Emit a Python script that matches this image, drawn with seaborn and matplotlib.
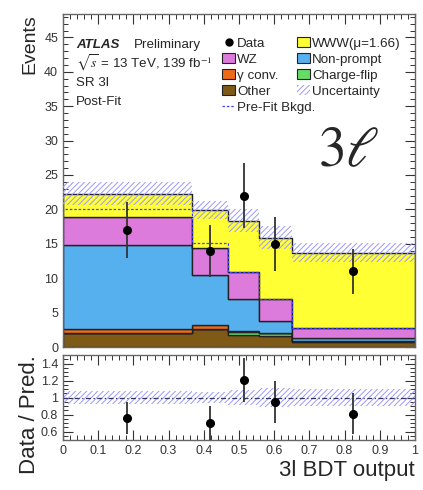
import numpy as np
import pandas as pd
import matplotlib
matplotlib.use("Agg")
import matplotlib.pyplot as plt
from matplotlib.ticker import MultipleLocator
from matplotlib.patches import Patch
from matplotlib.lines import Line2D
import seaborn as sns

# Binning of the 3l BDT output
bin_edges = [0.0, 0.366, 0.47, 0.557, 0.65, 1.0]

# Post-fit yields per bin
other = [2.05, 2.55, 1.8, 1.65, 0.7]
charge_flip = [0.05, 0.05, 0.4, 0.35, 0.1]
gamma_conv = [0.5, 0.6, 0.1, 0.05, 0.05]
non_prompt = [12.2, 7.3, 4.7, 1.75, 0.5]
wz = [4.1, 3.9, 3.9, 3.2, 1.4]
www = [3.4, 5.5, 7.4, 8.9, 10.85]

unc_lo = [20.6, 18.6, 16.7, 14.2, 12.3]
unc_hi = [24.0, 21.2, 20.0, 17.6, 15.1]
prefit_bkg = [20.0, 15.15, 10.9, 7.0, 2.75]

data_y = [17, 14, 22, 15, 11]
data_err = [4.1, 3.8, 4.7, 3.9, 3.3]

ratio_y = [0.76, 0.70, 1.21, 0.95, 0.81]
ratio_err = [0.19, 0.20, 0.26, 0.245, 0.24]
ratio_unc_lo = [0.925, 0.935, 0.91, 0.89, 0.895]
ratio_unc_hi = [1.075, 1.065, 1.09, 1.11, 1.105]

# stacking order in hue_order is top -> bottom (seaborn stacks the last level at the bottom)
processes = ["WWW(\u03bc=1.66)", "WZ", "Non-prompt", "\u03b3 conv.", "Charge-flip", "Other"]
proc_values = [www, wz, non_prompt, gamma_conv, charge_flip, other]
colors = {
    "WWW(\u03bc=1.66)": "#FFFF33",
    "WZ": "#DD7BDD",
    "Non-prompt": "#56B0EE",
    "\u03b3 conv.": "#EE6A1A",
    "Charge-flip": "#66DD66",
    "Other": "#7E5A16",
}

sns.set_style("ticks")
plt.rcParams["font.family"] = ["Liberation Sans", "DejaVu Sans"]
plt.rcParams["mathtext.fontset"] = "stix"
plt.rcParams["hatch.linewidth"] = 0.7

edges = np.array(bin_edges)
centers = 0.5 * (edges[:-1] + edges[1:])

rows = []
for name, vals in zip(processes, proc_values):
    for c, v in zip(centers, vals):
        rows.append({"x": c, "w": v, "process": name})
df = pd.DataFrame(rows)

fig = plt.figure(figsize=(4.23, 4.90), dpi=100)
W, H = 423, 490
ax = fig.add_axes([63 / W, 1 - 347 / H, 352 / W, 333 / H])
axr = fig.add_axes([63 / W, 1 - 440 / H, 352 / W, 85 / H])

# stacked backgrounds
sns.histplot(data=df, x="x", weights="w", hue="process", hue_order=processes,
             bins=bin_edges, multiple="stack", element="step", fill=True,
             palette=colors, alpha=1, edgecolor="#222222", linewidth=1.0,
             legend=False, ax=ax)

# pre-fit background
ax.stairs(prefit_bkg, edges, color="#4040ff", linestyle=(0, (2, 1.5)), linewidth=0.9, zorder=1.5)

# uncertainty band
ax.stairs(unc_hi, edges, baseline=unc_lo, fill=True, hatch="//////", facecolor="none",
          edgecolor="#9a9aff", linewidth=0, zorder=3)

# data
ax.errorbar(centers, data_y, yerr=data_err, fmt="o", color="black", ms=5.5,
            elinewidth=1.3, ecolor="#333333", capsize=0, zorder=5)

ax.set_xlim(0, 1)
ax.set_ylim(0, 48.4)
ax.set_xlabel("")
ax.set_ylabel("Events", fontsize=14, loc="top")
ax.yaxis.set_label_coords(-0.07, 1.0)
ax.yaxis.set_major_locator(MultipleLocator(5))
ax.yaxis.set_minor_locator(MultipleLocator(1))
ax.xaxis.set_major_locator(MultipleLocator(0.1))
ax.xaxis.set_minor_locator(MultipleLocator(0.02))
ax.tick_params(labelbottom=False)

# ratio panel
axr.stairs(ratio_unc_hi, edges, baseline=ratio_unc_lo, fill=True, hatch="//////",
           facecolor="none", edgecolor="#9a9aff", linewidth=0, zorder=1)
axr.axhline(1.0, color="#333366", linestyle=(0, (4, 2, 1, 2)), linewidth=0.9, zorder=2)
axr.errorbar(centers, ratio_y, yerr=ratio_err, fmt="o", color="black", ms=5.5,
             elinewidth=1.3, ecolor="#333333", capsize=0, zorder=5)
axr.set_xlim(0, 1)
axr.set_ylim(0.5, 1.5)
axr.set_yticks([0.6, 0.8, 1.0, 1.2, 1.4])
axr.set_yticklabels(["0.6", "0.8", "1", "1.2", "1.4"])
axr.yaxis.set_minor_locator(MultipleLocator(0.05))
axr.xaxis.set_major_locator(MultipleLocator(0.1))
axr.xaxis.set_minor_locator(MultipleLocator(0.02))
axr.set_xticks(np.arange(0, 1.01, 0.1))
axr.set_xticklabels(["0", "0.1", "0.2", "0.3", "0.4", "0.5", "0.6", "0.7", "0.8", "0.9", "1"])
axr.set_ylabel("Data / Pred.", fontsize=16, loc="top")
axr.yaxis.set_label_coords(-0.065, 1.0)
axr.set_xlabel("3l BDT output", fontsize=16, loc="right")
axr.xaxis.set_label_coords(1.0, -0.235)

for a in (ax, axr):
    a.tick_params(which="both", direction="in", top=True, right=True,
                  labelsize=9, colors="#333333", labelcolor="#333333")
    a.tick_params(which="major", length=7, width=0.8)
    a.tick_params(which="minor", length=3.5, width=0.7)
    for s in a.spines.values():
        s.set_color("#666666")
        s.set_linewidth(1.0)

# ATLAS labels
def tx(px, py):
    return ((px - 63) / 352, (347 - py) / 333)

fs = 9.6
ax.text(*tx(76, 45), "ATLAS", transform=ax.transAxes, fontsize=fs, fontweight="bold",
        fontstyle="italic", va="center")
ax.text(*tx(134, 45), "Preliminary", transform=ax.transAxes, fontsize=fs, va="center")
ax.text(*tx(76, 63), r"$\sqrt{s}$ = 13 TeV, 139 fb$^{-1}$", transform=ax.transAxes,
        fontsize=fs, va="center")
ax.text(*tx(76, 83), "SR 3l", transform=ax.transAxes, fontsize=fs, va="center")
ax.text(*tx(76, 102), "Post-Fit", transform=ax.transAxes, fontsize=fs, va="center")
ax.text(*tx(349, 152), r"$3\ell$", transform=ax.transAxes, fontsize=40, ha="center", va="center")

# legend, two columns
h_data = Line2D([], [], marker="o", color="black", linestyle="none", ms=5)
def box(name):
    return Patch(facecolor=colors[name], edgecolor="#222222", linewidth=0.8)
h_unc = Patch(facecolor="none", edgecolor="#9a9aff", hatch="//////", linewidth=0)
h_pre = Line2D([], [], color="#4040ff", linestyle=(0, (2, 1.5)), linewidth=0.9)

leg_kw = dict(frameon=False, fontsize=fs, loc="upper left", borderpad=0, borderaxespad=0,
              handlelength=1.0, handleheight=0.75, handletextpad=0.15, labelspacing=0.27)
leg1 = ax.legend([h_data, box("WZ"), box("\u03b3 conv."), box("Other"), h_pre],
                 ["Data", "WZ", "\u03b3 conv.", "Other", "Pre-Fit Bkgd."],
                 bbox_to_anchor=tx(222, 37), **leg_kw)
ax.add_artist(leg1)
ax.legend([box("WWW(\u03bc=1.66)"), box("Non-prompt"), box("Charge-flip"), h_unc],
          ["WWW(\u03bc=1.66)", "Non-prompt", "Charge-flip", "Uncertainty"],
          bbox_to_anchor=tx(297, 37), **leg_kw)

fig.savefig("out.png", dpi=100)
